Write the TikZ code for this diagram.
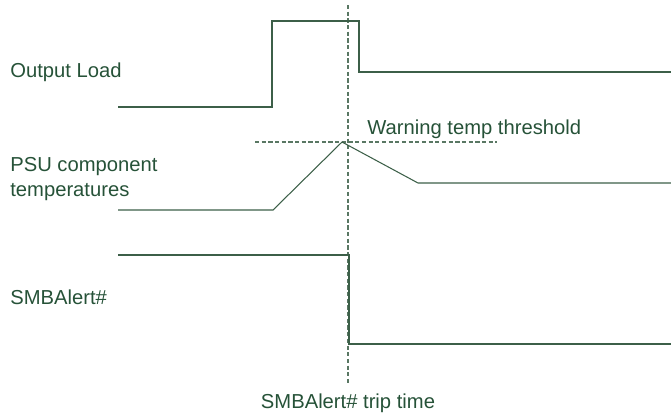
\documentclass[tikz,border=0pt]{standalone}
\usepackage{fontspec}
\setmainfont{Liberation Sans}
\usepackage{tikz}
\definecolor{wavegreen}{RGB}{38,82,56}
\definecolor{linegreen}{RGB}{60,95,72}
\tikzstyle{wave}=[draw=linegreen,line width=0.6pt]
\tikzstyle{marker}=[draw=linegreen!85,line width=0.6pt,dash pattern=on 2.4pt off 1.4pt]
\tikzstyle{label}=[text=wavegreen,inner sep=0pt,font=\fontsize{11.5}{14}\selectfont]

\begin{document}
\begin{tikzpicture}[x=0.02cm,y=-0.02cm]
      \useasboundingbox (0,0) rectangle (671,417);

      % trip time marker
      \coordinate (tripT) at (348,5);
      \coordinate (tripB) at (348,385);
      \draw[marker] (tripT) -- (tripB);
      \node[label] (trip) at (348,403) {SMBAlert\# trip time};

      % output load
      \node[label,anchor=west] (load) at (10,72) {Output Load};
      \coordinate (l0) at (118,107);
      \coordinate (l1) at (272,107);
      \coordinate (l2) at (272,21);
      \coordinate (l3) at (359,21);
      \coordinate (l4) at (359,72);
      \coordinate (l5) at (671,72);
      \draw[wave] (l0) -- (l1) -- (l2) -- (l3) -- (l4) -- (l5);

      % temperature
      \node[label,anchor=west,align=left] (temp) at (10,179) {PSU component\\temperatures};
      \coordinate (thL) at (255,142);
      \coordinate (thR) at (497,142);
      \draw[marker] (thL) -- (thR);
      \node[label,anchor=west] (warn) at (367,129) {Warning temp threshold};
      \coordinate (t0) at (118,210);
      \coordinate (t1) at (273,210);
      \coordinate (t2) at (342,142);
      \coordinate (t3) at (418,183);
      \coordinate (t4) at (671,183);
      \draw[wave] (t0) -- (t1) -- (t2) -- (t3) -- (t4);

      % alert line
      \node[label,anchor=west] (alert) at (10,297) {SMBAlert\#};
      \coordinate (a0) at (118,255);
      \coordinate (a1) at (349,255);
      \coordinate (a2) at (349,344);
      \coordinate (a3) at (671,344);
      \draw[wave] (a0) -- (a1) -- (a2) -- (a3);

    \end{tikzpicture}
\end{document}
